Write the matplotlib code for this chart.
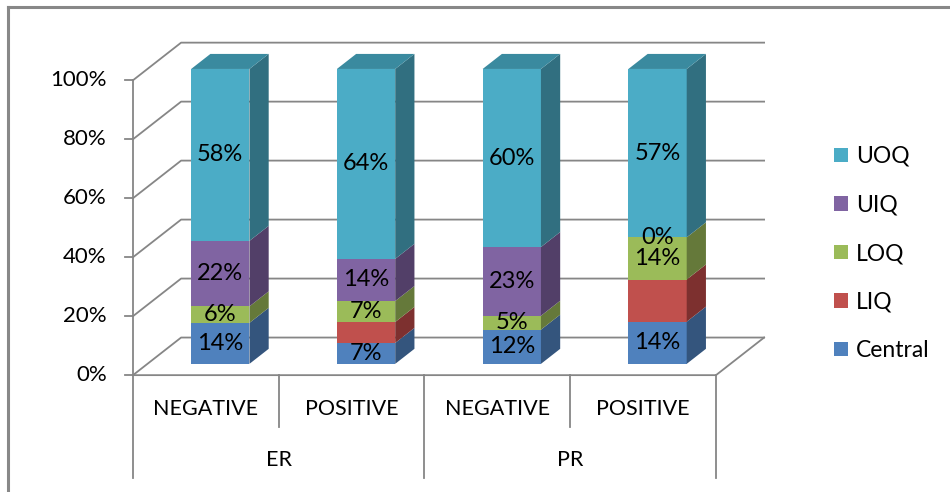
import matplotlib.pyplot as plt
from matplotlib.patches import Polygon, Patch

plt.rcParams['font.family'] = ['Lato', 'DejaVu Sans']

groups = ['ER', 'PR']
subgroups = ['NEGATIVE', 'POSITIVE', 'NEGATIVE', 'POSITIVE']
series = ['Central', 'LIQ', 'LOQ', 'UIQ', 'UOQ']

# percent of cases per quadrant, one value per bar
central = [13.9, 7.1, 11.6, 14.3]
liq = [0.0, 7.1, 0.0, 14.3]
loq = [5.6, 7.1, 4.7, 14.3]
uiq = [22.2, 14.3, 23.3, 0.0]
uoq = [58.3, 64.4, 60.4, 57.1]
values = [central, liq, loq, uiq, uoq]
labelled = [True, False, True, True, True]

colors = ['#4F81BD', '#C0504D', '#9BBB59', '#8064A2', '#4BACC6']
side_colors = ['#34557D', '#7D302F', '#65793A', '#523F68', '#316F80']
top_colors = ['#3F6A9A', '#9C403E', '#7E9A48', '#684F86', '#3A8A9F']

grid_c = '#868686'

# oblique projection: depth z in [0, 1] shifts right and up
DX, DY = 0.33, 12.75


def proj(x, y, z):
    return x + z * DX, y + z * DY


fig = plt.figure(figsize=(9.5, 4.92), dpi=100)
ax = fig.add_axes([0, 0, 1, 1])
x_px, y_px = 145.75, 2.94
ax.set_xlim(-133 / x_px, 4 + (950 - 716) / x_px)
ax.set_ylim(-(492 - 375.5) / y_px, 100 + 80 / y_px)
ax.axis('off')

# chart frame (only top and left edges fall inside the image)
fig.add_artist(plt.Line2D([8 / 950, 8 / 950], [0, 1 - 7 / 492], color='#888888', lw=2.2,
                          transform=fig.transFigure))
fig.add_artist(plt.Line2D([8 / 950, 1], [1 - 7 / 492, 1 - 7 / 492], color='#888888', lw=2.2,
                          transform=fig.transFigure))

# walls, floor and gridlines
lw = 1.3
for v in range(0, 101, 20):
    a = proj(0, v, 0)
    b = proj(0, v, 1)
    c = proj(4, v, 1)
    ax.plot([a[0], b[0], c[0]], [a[1], b[1], c[1]], color=grid_c, lw=lw, zorder=1)
    ax.plot([-0.055, 0], [v, v], color=grid_c, lw=lw, zorder=1)
    ax.text(-0.18, v, f'{v}%', ha='right', va='center', fontsize=16, color='black')
ax.plot([0, 0], [0, 100], color=grid_c, lw=lw, zorder=1)
fr = proj(4, 0, 1)
ax.plot([0, 4, fr[0]], [0, 0, fr[1]], color=grid_c, lw=lw, zorder=1)

# category axis dividers and labels
for i in range(5):
    bottom = -17.5 if i % 2 else -35
    ax.plot([i, i], [0, bottom], color=grid_c, lw=lw, zorder=1)
for i, name in enumerate(subgroups):
    ax.text(i + 0.5, -11.5, name, ha='center', va='center', fontsize=15.5)
for g, name in enumerate(groups):
    ax.text(2 * g + 1, -28.8, name, ha='center', va='center', fontsize=15.5)

# stacked 3D bars
x0, x1, z0, z1 = 0.3, 0.7, 0.3, 0.7
for i in range(len(subgroups)):
    tops = [0.0]
    for s in range(len(series)):
        tops.append(tops[-1] + values[s][i])
    for s in range(len(series)):
        lo, hi = tops[s], tops[s + 1]
        if hi - lo > 0:
            fx, fy = proj(i + x0, lo, z0)
            ax.bar(fx, hi - lo, width=x1 - x0, bottom=fy, align='edge', color=colors[s],
                   linewidth=0, zorder=3)
            side = [proj(i + x1, lo, z0), proj(i + x1, lo, z1),
                    proj(i + x1, hi, z1), proj(i + x1, hi, z0)]
            ax.add_patch(Polygon(side, closed=True, facecolor=side_colors[s],
                                 edgecolor='none', zorder=3))
        if labelled[s]:
            lx, ly = proj(i + 0.5, (lo + hi) / 2, z0)
            ax.text(lx, ly, f'{values[s][i]:.0f}%', ha='center', va='center',
                    fontsize=17, color='black', zorder=5)
    top = tops[-1]
    ax.add_patch(Polygon([proj(i + x0, top, z0), proj(i + x1, top, z0),
                          proj(i + x1, top, z1), proj(i + x0, top, z1)], closed=True,
                         facecolor=top_colors[-1], edgecolor='none', zorder=3))

handles = [Patch(facecolor=colors[s], edgecolor='none', label=series[s])
           for s in reversed(range(len(series)))]
ax.legend(handles=handles, loc='upper left', bbox_to_anchor=(834 / 950, 1 - 146 / 492),
          bbox_transform=fig.transFigure, frameon=False, fontsize=16.5,
          handlelength=0.6, handleheight=0.6, handletextpad=0.35,
          labelspacing=1.2, borderpad=0, borderaxespad=0)

fig.savefig('out.png', dpi=100)
